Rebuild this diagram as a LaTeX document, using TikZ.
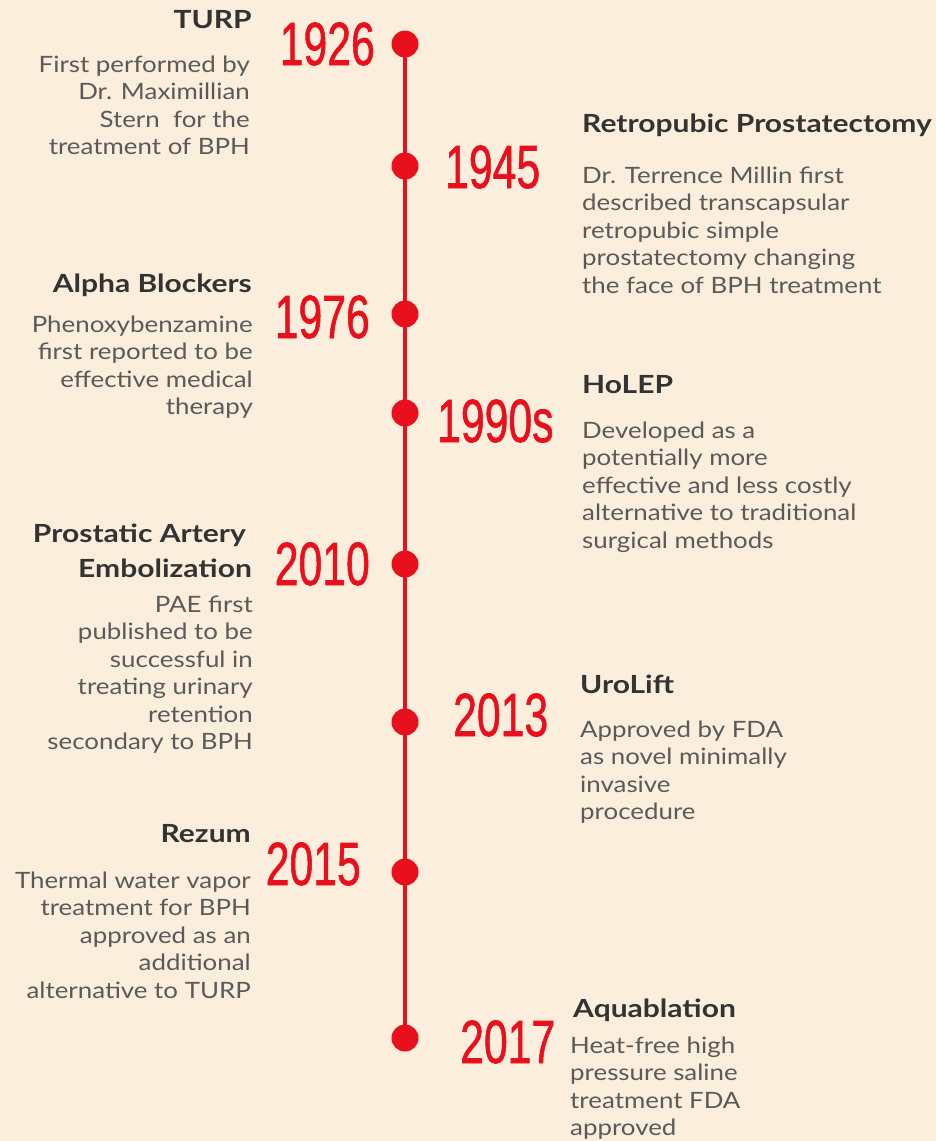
\documentclass[tikz,border=0pt]{standalone}
\usepackage{fontspec}
\usepackage{graphicx}
\setmainfont{Lato}
\newfontfamily\descface{Lato}[FakeStretch=1.15]
\newfontfamily\titleface{Lato}[FakeStretch=1.2]
\newfontfamily\yearface{Liberation Sans}[FakeBold=1.2]
\definecolor{paper}{HTML}{FCEEDC}
\definecolor{tlred}{HTML}{E8101C}
\definecolor{ttlgray}{HTML}{333333}
\definecolor{dscgray}{HTML}{5A5A5A}
\newcommand\yr[1]{\scalebox{0.7}[1]{#1}}
\newcommand\rblock[1]{\begin{tabular}[t]{@{}r@{}}#1\end{tabular}}
\newcommand\lblock[1]{\begin{tabular}[t]{@{}l@{}}#1\end{tabular}}
\begin{document}
\begin{tikzpicture}[x=1pt,y=-1pt,
  year/.style={font=\yearface\fontsize{61}{61}\selectfont, text=tlred, inner sep=0},
  title/.style={font=\titleface\bfseries\fontsize{25}{35}\selectfont, text=ttlgray, inner sep=0},
  desc/.style={font=\descface\fontsize{22.5}{27.5}\selectfont, text=dscgray, inner sep=0},
  dot/.style={circle, fill=tlred, minimum size=27pt, inner sep=0}]
\fill[paper] (0,0) rectangle (936,1141);
\useasboundingbox (0,0) rectangle (936,1141);

% dots on the timeline
\node[dot] (d1926) at (405,44) {};
\node[dot] (d1945) at (405,166) {};
\node[dot] (d1976) at (405,314) {};
\node[dot] (d1990) at (405,413) {};
\node[dot] (d2010) at (405,564) {};
\node[dot] (d2013) at (405,722) {};
\node[dot] (d2015) at (405,872) {};
\node[dot] (d2017) at (405,1038) {};
\draw[tlred, line width=4pt] (d1926.center) -- (d2017.center);

% years
\node[year, anchor=base east] (y1926) at (375,65) {\yr{1926}};
\node[year, anchor=base east] (y1976) at (370,338) {\yr{1976}};
\node[year, anchor=base east] (y2010) at (370,585) {\yr{2010}};
\node[year, anchor=base east] (y2015) at (361,885) {\yr{2015}};
\node[year, anchor=base west] (y1945) at (445,188) {\yr{1945}};
\node[year, anchor=base west] (y1990) at (437,442) {\yr{1990s}};
\node[year, anchor=base west] (y2013) at (453,736) {\yr{2013}};
\node[year, anchor=base west] (y2017) at (460,1063) {\yr{2017}};

% left-hand events
\node[title, anchor=base east] (tTURP) at (252,28) {TURP};
\node[desc, anchor=base east] (dTURP) at (250,72)
  {\rblock{First performed by\\ Dr. Maximillian\\ Stern\ \ for the\\ treatment of BPH}};
\node[title, anchor=base east] (tAlpha) at (252,292) {Alpha Blockers};
\node[desc, anchor=base east] (dAlpha) at (253,332)
  {\rblock{Phenoxybenzamine\\ first reported to be\\ effective medical\\ therapy}};
\node[title, anchor=base east] (tPAE) at (252,542)
  {\rblock{Prostatic Artery\hspace*{6pt}\\ Embolization}};
\node[desc, anchor=base east] (dPAE) at (253,612)
  {\rblock{PAE first\\ published to be\\ successful in\\ treating urinary\\ retention\\ secondary to BPH}};
\node[title, anchor=base east] (tRezum) at (251,842) {Rezum};
\node[desc, anchor=base east] (dRezum) at (251,888)
  {\rblock{Thermal water vapor\\ treatment for BPH\\ approved as an\\ additional\\ alternative to TURP}};

% right-hand events
\node[title, anchor=base west] (tRetro) at (582,132) {Retropubic Prostatectomy};
\node[desc, anchor=base west] (dRetro) at (582,183)
  {\lblock{Dr. Terrence Millin first\\ described transcapsular\\ retropubic simple\\ prostatectomy changing\\ the face of BPH treatment}};
\node[title, anchor=base west] (tHoLEP) at (582,393) {HoLEP};
\node[desc, anchor=base west] (dHoLEP) at (582,438)
  {\lblock{Developed as a\\ potentially more\\ effective and less costly\\ alternative to traditional\\ surgical methods}};
\node[title, anchor=base west] (tUro) at (580,693) {UroLift};
\node[desc, anchor=base west] (dUro) at (580,737)
  {\lblock{Approved by FDA\\ as novel minimally\\ invasive\\ procedure}};
\node[title, anchor=base west] (tAqua) at (573,1017) {Aquablation};
\node[desc, anchor=base west] (dAqua) at (570,1053)
  {\lblock{Heat-free high\\ pressure saline\\ treatment FDA\\ approved}};
\end{tikzpicture}
\end{document}
